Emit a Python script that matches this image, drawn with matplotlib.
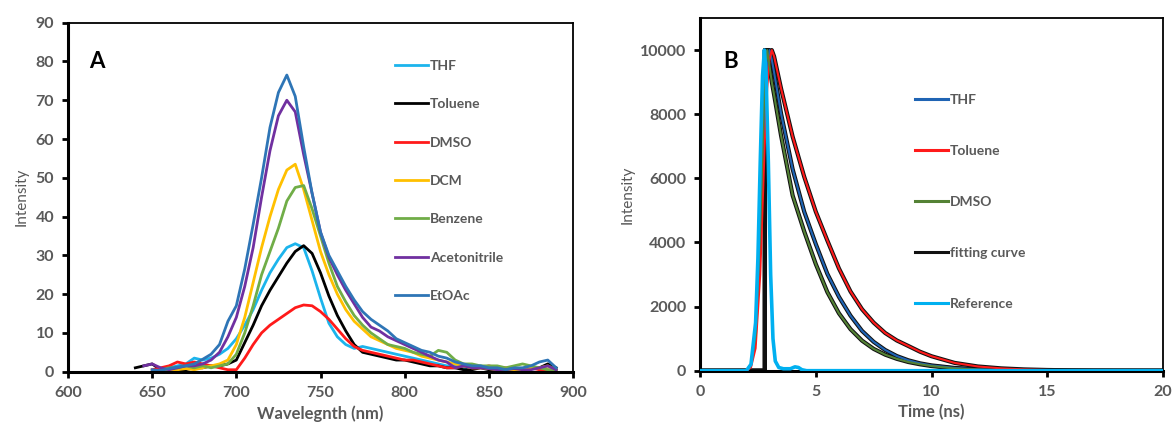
import matplotlib
matplotlib.use("Agg")
import matplotlib.pyplot as plt
import numpy as np

plt.rcParams['font.family'] = ['Lato', 'DejaVu Sans']

# ---- panel A: emission spectra ----
wl = [640, 645, 650, 655, 660, 665, 670, 675, 680, 685,
      690, 695, 700, 705, 710, 715, 720, 725, 730, 735,
      740, 745, 750, 755, 760, 765, 770, 775, 780, 785,
      790, 795, 800, 805, 810, 815, 820, 825, 830, 835,
      840, 845, 850, 855, 860, 865, 870, 875, 880, 885, 890]
nan = np.nan
thf = [nan, nan, nan, 0.5, 1, 1.5, 2, 3.5, 3, 3.5,
       4.5, 6, 8.5, 12, 16, 21, 25.5, 29, 32, 33,
       32, 26, 19, 12.5, 9, 7, 6, 6.5, 6, 5.5,
       5, 4.5, 4, 3.5, 3, 2.5, 2, 1.5, 1.5, 1,
       1, 1.5, 1, 0.5, 0.5, 1, 0.5, 1, 1, 1.5, 0.5]
toluene = [1, 1.5, 2, 0.5, 0.5, 0.3, 0.5, 1, 1, 1.5,
           1.5, 2, 3, 7.5, 12, 17, 21, 24.5, 28, 31,
           32.5, 30.5, 25.5, 19.5, 14.5, 10.5, 7, 5, 4.5, 4,
           3.5, 3, 3, 2.5, 2, 1.5, 1.5, 1, 1, 0.5,
           0.5, 1, 0.5, 0.5, 0.5, 0.5, 0.5, 1, 1, 2, 1]
dmso = [nan, nan, 0.5, 1, 1.5, 2.5, 2, 2.5, 2, 1.5,
        1, 0.5, 0.5, 3.5, 7, 10, 12, 13.5, 15, 16.5,
        17.2, 17, 15.5, 13.5, 11, 8.5, 6.5, 5.5, 5, 4.5,
        4, 3.5, 3, 3, 2.5, 2, 1.5, 1, 1, 1.5,
        1, 1, 1.5, 1, 1, 0.5, 0.5, 1, 0.5, 0.5, 0]
dcm = [nan, nan, nan, 0.5, 0.3, 0.5, 0.8, 0.5, 1, 1.5,
       2, 3, 7, 14, 23, 32, 40, 47, 52, 53.5,
       47, 39, 31, 25, 20, 16, 13, 11, 9, 8,
       7, 6, 5.5, 5, 4, 3.5, 3, 2.5, 2, 1.5,
       1, 1, 0.8, 0.5, 0.5, 0.5, 0.5, 1, 1, 1.5, 0.5]
benzene = [nan, nan, nan, 0.5, 1, 1, 1.5, 1, 1.5, 1,
           1.5, 2, 4.5, 10, 17, 25, 31, 37, 44, 47.5,
           48, 42, 35, 28, 22, 18, 14.5, 12, 10, 8.5,
           7, 6.5, 6, 5, 4.5, 4, 5.5, 5, 3, 2,
           2, 1.5, 1.5, 1.5, 1, 1.5, 2, 1.5, 1, 0.5, 0.5]
acetonitrile = [nan, 1.5, 2, 1, 0.5, 1, 1.5, 1.5, 2, 3,
                5, 9, 14, 22, 32, 45, 57, 66, 70, 67,
                56, 46, 36, 29.5, 25, 21, 17.5, 14, 11.5, 10.5,
                9, 8, 7, 6, 5, 4, 3, 2.5, 1, 1.5,
                1, 1, 0.8, 0.5, 0.5, 0.8, 0.5, 0.5, 1, 1.5, 0.5]
etoac = [nan, nan, 0.5, 0.3, 0.8, 1.2, 1.5, 2, 3.2, 4.5,
         7, 13, 17, 26.5, 38, 50, 63, 72, 76.5, 71,
         58, 46, 36, 30, 26, 22, 18.5, 15.5, 13.5, 12,
         10.5, 8.5, 7.5, 6.5, 5.5, 5, 4, 3.5, 2.5, 2,
         1.5, 1.5, 1, 1, 0.5, 1, 1, 1.5, 2.5, 3, 1]

names_a = ['THF', 'Toluene', 'DMSO', 'DCM', 'Benzene', 'Acetonitrile', 'EtOAc']
colors_a = ['#1CB4EC', '#000000', '#FF1A1A', '#FFC000', '#70AD47', '#7030A0', '#2E75B6']
series_a = [thf, toluene, dmso, dcm, benzene, acetonitrile, etoac]

# ---- panel B: decay curves ----
t = [0, 2.0, 2.2, 2.4, 2.6, 2.8, 2.9, 3.0, 3.1, 3.2,
     3.5, 4.0, 4.5, 5.0, 5.5, 6.0, 6.5, 7.0, 7.5, 8.0,
     8.5, 9.0, 9.5, 10, 11, 12, 13, 14, 15, 16,
     17, 18, 19, 20]
thf_b = [0, 0, 150, 900, 3800, 8000, 9400, 10000, 9700, 9300,
         8020, 6285, 4960, 3950, 3020, 2305, 1715, 1240, 900, 645,
         457, 324, 230, 165, 85, 42, 20, 10, 5, 2,
         0, 0, 0, 0]
toluene_b = [0, 0, 100, 700, 3000, 7200, 8800, 9700, 10000, 9800,
             8800, 7300, 6050, 4960, 4060, 3190, 2470, 1915, 1500, 1175,
             943, 770, 593, 451, 243, 132, 73, 40, 22, 12,
             6, 3, 1, 0]
dmso_b = [0, 0, 200, 1100, 4500, 9200, 10000, 9500, 9000, 8600,
          7330, 5465, 4345, 3325, 2450, 1790, 1295, 935, 680, 500,
          370, 270, 200, 145, 70, 33, 15, 7, 3, 0,
          0, 0, 0, 0]
fit_start = 2.8
ref_t = [0, 2.0, 2.2, 2.4, 2.5, 2.6, 2.7, 2.78, 2.85, 2.95,
         3.05, 3.15, 3.25, 3.4, 3.6, 3.9, 4.1, 4.25, 4.4, 4.6, 20]
ref_i = [0, 0, 200, 1500, 3500, 6500, 9200, 10000, 9300, 6500,
         3000, 1000, 300, 100, 60, 60, 120, 100, 30, 0, 0]

gray = '#595959'

fig = plt.figure(figsize=(11.74, 4.33), dpi=100)
axA = fig.add_axes([0.0579, 0.1416, 0.4302, 0.806])
axB = fig.add_axes([0.5963, 0.1439, 0.3943, 0.8145])

for name, col, y in zip(names_a, colors_a, series_a):
    axA.plot(wl, y, color=col, lw=2.0, label=name)

axA.set_xlim(600, 900)
axA.set_ylim(0, 90)
axA.set_xticks(np.arange(600, 901, 50))
axA.set_yticks(np.arange(0, 91, 10))
axA.set_xlabel('Wavelegnth (nm)', color=gray, fontsize=12, fontweight='bold', labelpad=4)
axA.set_ylabel('Intensity', color=gray, fontsize=11, labelpad=5)
axA.text(0.057, 0.888, 'A', transform=axA.transAxes, fontsize=16,
         fontweight='bold', ha='center', va='center')
axA.legend(loc='upper left', bbox_to_anchor=(0.3365, 0.8620),
           bbox_transform=fig.transFigure, frameon=False,
           handlelength=2.4, handletextpad=0.1, labelspacing=1.9,
           borderpad=0, borderaxespad=0, labelcolor=gray,
           prop={'weight': 'bold', 'size': 10})

# decay data
b_lines = [('THF', '#1F64B4', thf_b), ('Toluene', '#FF1A1A', toluene_b),
           ('DMSO', '#548235', dmso_b)]
i3 = t.index(3.0)
for k, (name, col, y) in enumerate(b_lines):
    # fitting curve drawn underneath the data
    fit_t = [0, fit_start, fit_start] + t[i3:]
    fit_y = [0, 0, 10000] + y[i3:]
    axB.plot(fit_t, fit_y, color='#111111', lw=3.0, zorder=2,
             label='fitting curve' if k == 0 else None)
for name, col, y in b_lines:
    axB.plot(t, y, color=col, lw=1.5, label=name, zorder=3)
axB.plot(ref_t, ref_i, color='#00B0F0', lw=2.6, label='Reference', zorder=4)

axB.set_xlim(0, 20)
axB.set_ylim(0, 11000)
axB.set_xticks(np.arange(0, 21, 5))
axB.set_yticks(np.arange(0, 10001, 2000))
axB.set_xlabel('Time (ns)', color=gray, fontsize=12, fontweight='bold', labelpad=4)
axB.set_ylabel('Intensity', color=gray, fontsize=11, labelpad=4)
axB.text(0.065, 0.876, 'B', transform=axB.transAxes, fontsize=16,
         fontweight='bold', ha='center', va='center')
h, l = axB.get_legend_handles_labels()
order = ['THF', 'Toluene', 'DMSO', 'fitting curve', 'Reference']
hd = dict(zip(l, h))
leg = axB.legend([hd[o] for o in order], order, loc='upper left',
                 bbox_to_anchor=(0.7794, 0.7830), bbox_transform=fig.transFigure,
                 frameon=False, handlelength=2.4, handletextpad=0.1,
                 labelspacing=2.8, borderpad=0, borderaxespad=0,
                 labelcolor=gray, prop={'weight': 'bold', 'size': 10})
for line in leg.get_lines():
    line.set_linewidth(2.2)

for ax in (axA, axB):
    ax.spines['left'].set_linewidth(2.2)
    ax.spines['bottom'].set_linewidth(2.2)
    ax.spines['top'].set_linewidth(1.3)
    ax.spines['right'].set_linewidth(1.3)
    ax.tick_params(direction='out', length=4, width=2, pad=6,
                   labelsize=11.5, labelcolor=gray)
    for lab in ax.get_xticklabels() + ax.get_yticklabels():
        lab.set_fontweight('bold')

fig.savefig('out.png', dpi=100)
